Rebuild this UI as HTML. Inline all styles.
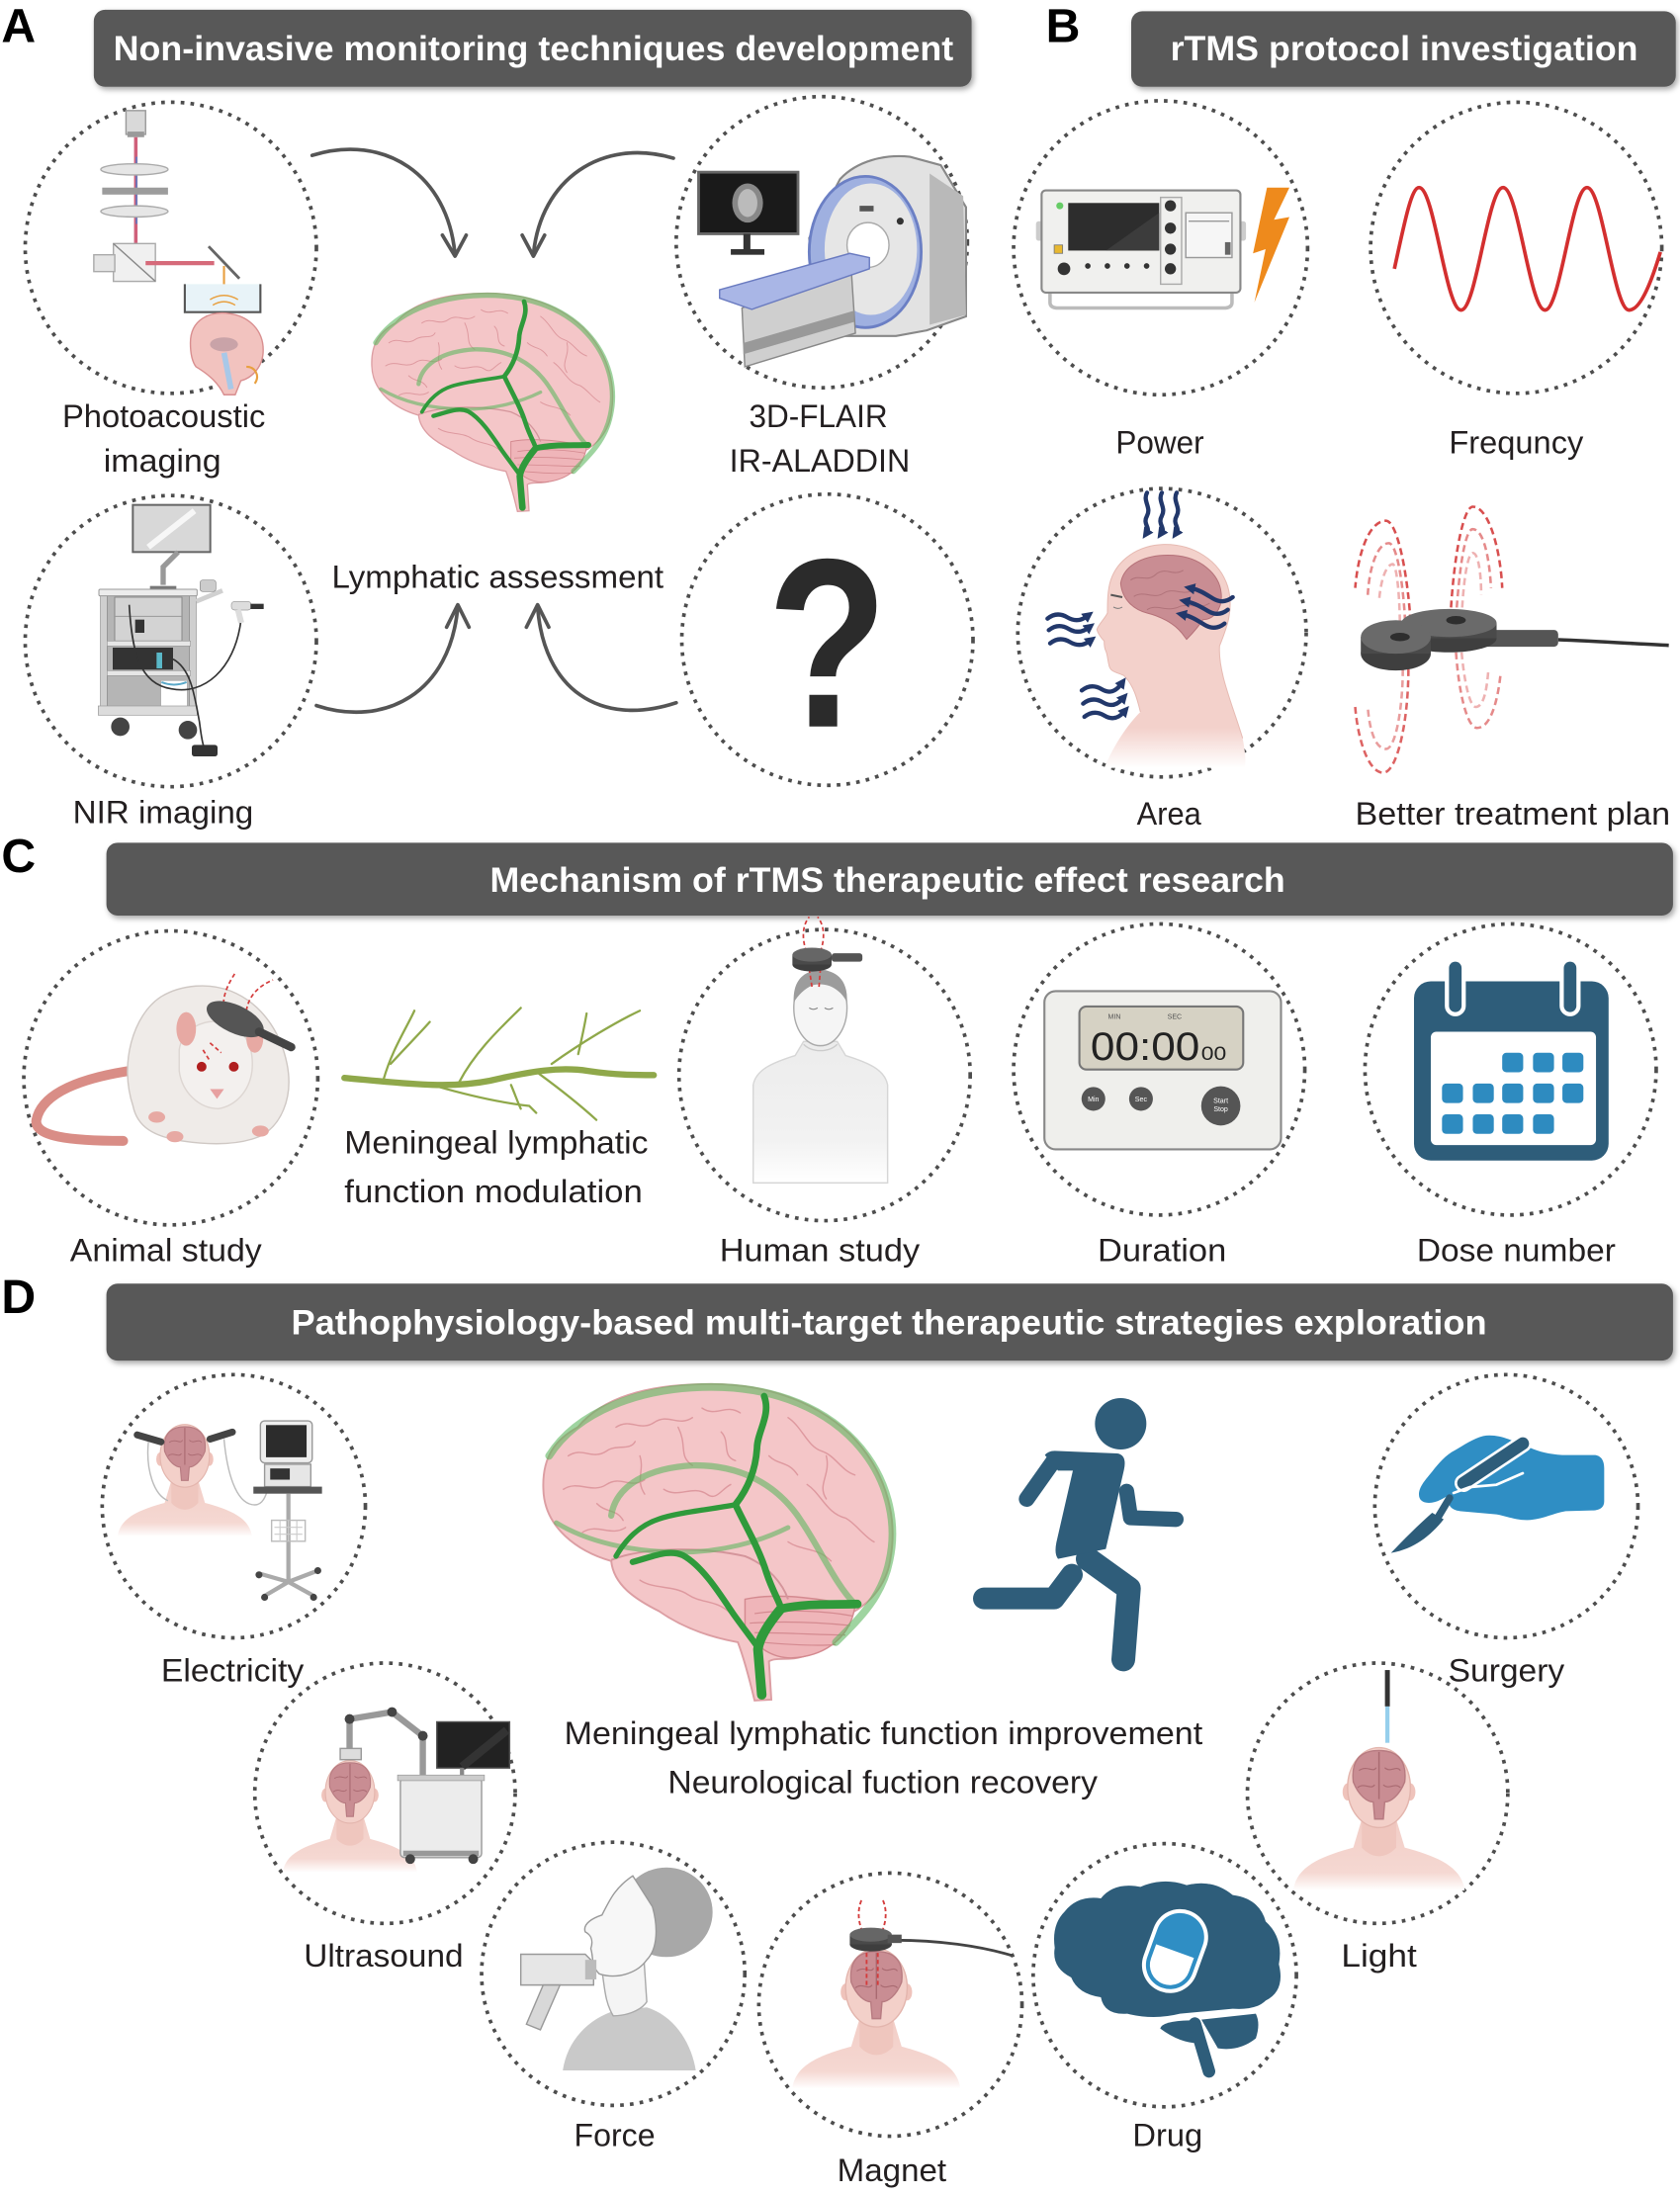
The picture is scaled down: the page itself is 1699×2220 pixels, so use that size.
<!DOCTYPE html>
<html><head><meta charset="utf-8"><title>rTMS lymphatic figure</title>
<style>
html,body{margin:0;padding:0;background:#fff;}
svg{display:block;}
text{font-family:"Liberation Sans","DejaVu Sans",sans-serif;}
.lb{font-size:23px;fill:#231f20;text-anchor:middle;}
.hd{font-size:25px;font-weight:bold;fill:#fff;text-anchor:middle;}
.pl{font-size:34px;font-weight:bold;fill:#000;}
.dc{fill:none;stroke:#4d4d4d;stroke-width:2.6;stroke-dasharray:2.6 4.4;}
.ar{fill:none;stroke:#555;stroke-width:2.6;stroke-linecap:round;stroke-linejoin:round;}
</style></head><body>
<svg width="1699" height="2220" viewBox="0 0 1200 1568" preserveAspectRatio="none" xmlns="http://www.w3.org/2000/svg" xmlns:xlink="http://www.w3.org/1999/xlink">
<defs>
<filter id="sh" x="-5%" y="-30%" width="110%" height="170%"><feDropShadow dx="1.5" dy="2" stdDeviation="2" flood-color="#000" flood-opacity="0.35"/></filter>
<linearGradient id="fadeG" x1="0" y1="0" x2="0" y2="1"><stop offset="0" stop-color="#ececec"/><stop offset="0.7" stop-color="#f2f2f2"/><stop offset="1" stop-color="#fff"/></linearGradient>
<linearGradient id="skin" x1="0" y1="0" x2="0" y2="1"><stop offset="0" stop-color="#f2cdc6"/><stop offset="0.75" stop-color="#f5d8d2"/><stop offset="1" stop-color="#fff"/></linearGradient>
<linearGradient id="skin2" x1="0" y1="0" x2="0" y2="1"><stop offset="0" stop-color="#f3d1cb"/><stop offset="0.82" stop-color="#f3d1cb"/><stop offset="1" stop-color="#fff"/></linearGradient>
<marker id="nv" viewBox="0 0 10 10" refX="3" refY="5" markerWidth="2.6" markerHeight="2.6" orient="auto"><path d="M0 0 L10 5 L0 10 Z" fill="#22386b"/></marker>

<g id="brain">
 <path d="M48 330 C45 260 75 225 120 200 C170 140 260 112 380 110 C500 106 610 140 690 215 C760 285 790 380 775 470 C768 530 730 570 690 590 C680 640 640 670 590 680 C560 690 535 680 520 690 L525 770 L490 772 C480 730 470 690 455 650 C400 640 340 620 290 585 C240 560 195 530 190 480 C120 460 50 410 48 330 Z" fill="#f4c6c8" stroke="#dc9ea3" stroke-width="4"/>
 <path d="M470 560 C540 545 640 560 700 575 C690 640 640 675 580 682 C530 688 490 660 470 620 Z" fill="#efb5b9" stroke="#d48a90" stroke-width="3"/>
 <g stroke="#d48a90" stroke-width="2.5" fill="none">
  <path d="M490 590 C560 580 640 585 695 595"/><path d="M480 610 C560 605 640 610 690 615"/>
  <path d="M490 630 C560 630 630 635 680 635"/><path d="M505 650 C560 655 620 658 660 655"/>
 </g>
 <path d="M190 478 C260 450 380 450 470 470 C520 490 550 530 560 560" fill="none" stroke="#d4959b" stroke-width="4"/>
 <g fill="none" stroke="#d98f96" stroke-width="3" stroke-linecap="round" opacity="0.8">
  <path d="M100 260 C130 240 150 270 180 250 C200 235 230 250 240 230"/>
  <path d="M90 330 C120 310 150 340 180 320 C210 300 230 330 260 310"/>
  <path d="M200 200 C230 180 250 210 280 190 C310 170 330 200 360 180"/>
  <path d="M380 160 C410 180 430 150 460 170"/>
  <path d="M560 180 C590 200 600 240 630 250 C660 260 670 290 700 300"/>
  <path d="M600 320 C630 340 640 380 680 390 C700 400 720 430 740 440"/>
  <path d="M300 330 C330 350 360 320 390 340 C410 355 420 330 440 320"/>
  <path d="M560 440 C590 460 620 450 650 480"/>
  <path d="M250 520 C280 540 320 530 350 550 C380 570 410 560 440 590"/>
  <path d="M130 420 C160 400 190 430 220 410"/>
  <path d="M330 200 C350 240 330 260 360 280"/>
  <path d="M250 260 C260 290 240 310 260 340"/>
  <path d="M640 260 C650 300 620 320 640 350"/>
  <path d="M520 260 C540 280 560 270 580 300"/>
  <path d="M420 210 C440 230 420 260 450 270"/>
  <path d="M160 360 C180 380 200 370 215 395"/>
 </g>
 <g fill="none" stroke="#5fb760" stroke-opacity="0.6" stroke-linecap="round">
  <path d="M60 260 C120 165 250 120 380 116 C510 112 625 150 700 230 C770 305 790 400 772 480 C757 555 710 600 660 650" stroke-width="16"/>
  <path d="M190 385 C200 320 270 285 360 280 C460 278 540 320 590 400 C630 460 660 530 700 570" stroke-width="13"/>
  <path d="M75 400 C140 440 230 460 330 462 C420 462 500 440 560 410" stroke-width="10"/>
 </g>
 <g fill="none" stroke="#2f9a3b" stroke-linecap="round" stroke-linejoin="round">
  <path d="M510 135 C525 175 495 210 495 245 C492 290 475 330 450 362 C470 405 500 455 515 505 C528 545 545 570 545 580" stroke-width="14"/>
  <path d="M450 362 C400 372 330 378 290 392 C250 405 220 435 200 470" stroke-width="11"/>
  <path d="M235 482 C280 470 310 455 340 468 C380 490 415 545 445 590 C470 625 490 650 500 665" stroke-width="13"/>
  <path d="M545 580 C520 610 500 640 497 665 L505 760" stroke-width="20"/>
  <path d="M545 580 C600 568 650 572 705 570" stroke-width="18"/>
 </g>
</g>

<g id="hb">
 <path d="M-60 72 C-58 55 -40 48 -18 42 L-12 22 L12 22 L18 42 C40 48 58 55 60 72 Z" fill="url(#skin)"/>
 <path d="M-12 18 L-12 42 C-5 50 5 50 12 42 L12 18 Z" fill="#efc6be"/>
 <ellipse cx="-22" cy="3" rx="3.5" ry="6" fill="#efc3bb"/><ellipse cx="22" cy="3" rx="3.5" ry="6" fill="#efc3bb"/>
 <ellipse cx="0" cy="0" rx="22" ry="28" fill="#f3d0c9" stroke="#e3b5ad" stroke-width="1"/>
 <path d="M-18 -4 C-20 -22 -10 -26 0 -26 C10 -26 20 -22 18 -4 C14 6 8 10 4 10 L3 22 L-3 22 L-4 10 C-8 10 -14 6 -18 -4 Z" fill="#c98d93" stroke="#b77b81" stroke-width="1"/>
 <path d="M0 -25 L0 8" stroke="#a96a71" stroke-width="1"/>
 <path d="M-14 -12 C-8 -16 -4 -10 -2 -14 M4 -14 C8 -10 12 -16 15 -12 M-15 0 C-10 -4 -6 2 -3 -2 M3 -2 C7 2 11 -4 15 0" stroke="#a96a71" stroke-width="0.8" fill="none"/>
</g>
</defs>

<!-- ================= PANEL A ================= -->
<text class="pl" x="1" y="30">A</text>
<rect x="67" y="7" width="627" height="55" rx="8" fill="#585858" filter="url(#sh)"/>
<text class="hd" x="381" y="43" textLength="600" lengthAdjust="spacingAndGlyphs">Non-invasive monitoring techniques development</text>

<circle class="dc" cx="122" cy="177" r="104"/>
<circle class="dc" cx="587" cy="173" r="104"/>
<circle class="dc" cx="122" cy="458" r="104"/>
<circle class="dc" cx="591" cy="457" r="104"/>

<!-- photoacoustic -->
<g>
 <rect x="90" y="79" width="14" height="17" fill="#d9d9d9" stroke="#9a9a9a"/>
 <rect x="91" y="94" width="12" height="4" fill="#9a9a9a"/>
 <line x1="97" y1="98" x2="97" y2="188" stroke="#d0607a" stroke-width="2.5"/>
 <line x1="97.5" y1="112" x2="97.5" y2="160" stroke="#4a7fd0" stroke-width="1"/>
 <ellipse cx="96" cy="121" rx="24" ry="4" fill="#e6e6e6" stroke="#aaa"/>
 <rect x="73" y="134" width="47" height="5" fill="#9c9c9c"/>
 <ellipse cx="96" cy="151" rx="24" ry="4" fill="#e6e6e6" stroke="#aaa"/>
 <rect x="81" y="174" width="30" height="27" fill="#f0f0f0" stroke="#aaa"/>
 <line x1="81" y1="174" x2="111" y2="201" stroke="#888"/>
 <rect x="67" y="182" width="15" height="12" fill="#e4e4e4" stroke="#aaa"/>
 <line x1="104" y1="188" x2="153" y2="188" stroke="#d66a7a" stroke-width="3"/>
 <line x1="149" y1="176" x2="171" y2="199" stroke="#666" stroke-width="2"/>
 <line x1="160" y1="190" x2="160" y2="218" stroke="#e8a040" stroke-width="1.5"/>
 <path d="M132 203 L132 223 L186 223 L186 203" fill="#e8f3f8" stroke="#555" stroke-width="1.5"/>
 <path d="M150 214 Q160 208 170 214 M152 218 Q160 213 168 218" stroke="#e8a040" fill="none"/>
 <path d="M136 245 C136 228 150 222 164 224 C178 226 188 236 188 250 C188 262 180 270 172 272 L168 282 L160 282 C156 274 150 268 140 262 C137 258 136 252 136 245 Z" fill="#f2c3bf" stroke="#d98f90"/>
 <ellipse cx="160" cy="246" rx="10" ry="5" fill="#c9a3a8"/>
 <path d="M160 252 L165 278" stroke="#a8c8e8" stroke-width="4"/>
 <path d="M176 262 C182 262 186 268 182 274" stroke="#e8a040" stroke-width="1.5" fill="none"/>
</g>

<!-- MRI -->
<g>
 <rect x="499" y="123" width="71" height="44" fill="#1a1a1a" stroke="#666" stroke-width="2"/>
 <ellipse cx="534" cy="145" rx="11" ry="14" fill="#888"/>
 <ellipse cx="534" cy="145" rx="7" ry="10" fill="#bbb"/>
 <rect x="531" y="167" width="5" height="12" fill="#333"/>
 <rect x="522" y="178" width="24" height="4" fill="#333"/>
 <path d="M600 128 C612 115 632 110 650 112 L672 118 L690 148 L690 226 L662 236 L640 240 L600 240 L582 215 L578 170 Z" fill="#e2e2e2" stroke="#888" stroke-width="1.5"/>
 <path d="M664 124 L688 140 L690 225 L664 232 Z" fill="#b9b9b9"/>
 <ellipse cx="618" cy="180" rx="40" ry="54" fill="#9fb0e0" stroke="#6b7fc4" stroke-width="2"/>
 <ellipse cx="622" cy="178" rx="33" ry="47" fill="#e6e6e6"/>
 <ellipse cx="620" cy="175" rx="15" ry="16" fill="#fff" stroke="#aaa"/>
 <circle cx="643" cy="158" r="2.5" fill="#333"/>
 <rect x="614" y="147" width="10" height="4" fill="#555"/>
 <path d="M530 220 L608 192 L611 238 L532 262 Z" fill="#cfcfcf" stroke="#888"/>
 <path d="M531 245 L610 222 L610 230 L531 253 Z" fill="#999"/>
 <path d="M514 207 L607 181 L621 184 L621 192 L537 221 L514 213 Z" fill="#a9b6e6" stroke="#6a7bc0"/>
</g>

<!-- NIR cart (zoom coords) -->
<g transform="scale(0.7063) translate(40,490) scale(0.33333)">
 <rect x="283" y="62" width="235" height="143" fill="#d8d8d8" stroke="#666" stroke-width="6"/>
 <path d="M330 190 L470 80" stroke="#fff" stroke-width="18" opacity="0.8"/>
 <path d="M420 205 L375 250 L375 305" stroke="#999" stroke-width="16" fill="none"/>
 <rect x="335" y="308" width="80" height="10" fill="#777"/>
 <rect x="185" y="335" width="290" height="355" fill="#b5b5b5"/>
 <rect x="185" y="335" width="20" height="355" fill="#cfcfcf" stroke="#888" stroke-width="2"/>
 <rect x="455" y="335" width="20" height="355" fill="#cfcfcf" stroke="#888" stroke-width="2"/>
 <rect x="180" y="318" width="298" height="20" rx="4" fill="#ececec" stroke="#999" stroke-width="3"/>
 <rect x="228" y="342" width="204" height="133" fill="#d3d3d3" stroke="#888" stroke-width="3"/>
 <line x1="228" y1="400" x2="432" y2="400" stroke="#999" stroke-width="3"/>
 <rect x="290" y="410" width="28" height="40" fill="#333"/>
 <rect x="205" y="475" width="253" height="15" fill="#e6e6e6" stroke="#999" stroke-width="2"/>
 <rect x="222" y="495" width="183" height="67" fill="#333"/>
 <rect x="355" y="510" width="17" height="48" fill="#5ab8c8"/>
 <rect x="205" y="565" width="253" height="15" fill="#e6e6e6" stroke="#999" stroke-width="2"/>
 <rect x="368" y="595" width="80" height="90" fill="#fff" stroke="#aaa" stroke-width="2"/>
 <path d="M370 600 Q408 615 446 600" stroke="#5aa8c8" stroke-width="6" fill="none"/>
 <rect x="178" y="672" width="300" height="28" fill="#dcdcdc" stroke="#999" stroke-width="2"/>
 <circle cx="245" cy="735" r="28" fill="#444"/><circle cx="450" cy="745" r="28" fill="#444"/>
 <path d="M475 355 L555 322" stroke="#d0d0d0" stroke-width="14"/>
 <rect x="487" y="290" width="48" height="35" rx="8" fill="#ccc" stroke="#888" stroke-width="2"/>
 <rect x="582" y="355" width="60" height="26" rx="10" fill="#ddd" stroke="#999" stroke-width="2"/>
 <rect x="640" y="362" width="40" height="16" fill="#333"/>
 <path d="M602 380 L612 420" stroke="#ddd" stroke-width="18"/>
 <path d="M610 420 C590 560 500 640 400 620 C300 605 280 500 272 365" stroke="#333" stroke-width="5" fill="none"/>
 <path d="M405 530 C460 560 470 640 485 720 C490 760 495 790 500 800" stroke="#333" stroke-width="5" fill="none"/>
 <rect x="462" y="790" width="78" height="35" rx="8" fill="#333"/>
</g>

<!-- question mark -->
<text x="0" y="0" transform="translate(591,519) scale(0.82,1)" font-size="172" font-weight="bold" fill="#2b2b2b" text-anchor="middle">?</text>

<!-- brain A -->
<use xlink:href="#brain" href="#brain" transform="scale(0.7063) translate(360,260) scale(0.33333)"/>

<!-- arrows A -->
<path class="ar" d="M223 111 C275 95 320 125 325 182"/><path class="ar" d="M316 168 L325 183 L333 168"/>
<path class="ar" d="M481 113 C430 98 386 128 381 182"/><path class="ar" d="M373 168 L381 183 L389 168"/>
<path class="ar" d="M226 504 C275 520 322 495 327 433"/><path class="ar" d="M319 448 L327 432 L335 448"/>
<path class="ar" d="M483 502 C428 520 388 492 384 433"/><path class="ar" d="M376 448 L384 432 L392 448"/>

<text class="lb" x="117" y="305" textLength="145" lengthAdjust="spacingAndGlyphs">Photoacoustic</text>
<text class="lb" x="116" y="337" textLength="84" lengthAdjust="spacingAndGlyphs">imaging</text>
<text class="lb" x="584.5" y="305" textLength="99" lengthAdjust="spacingAndGlyphs">3D-FLAIR</text>
<text class="lb" x="585.5" y="337" textLength="129" lengthAdjust="spacingAndGlyphs">IR-ALADDIN</text>
<text class="lb" x="116.5" y="588" textLength="129" lengthAdjust="spacingAndGlyphs">NIR imaging</text>
<text class="lb" x="355.5" y="420" textLength="237" lengthAdjust="spacingAndGlyphs">Lymphatic assessment</text>

<!-- ================= PANEL B ================= -->
<text class="pl" x="747" y="30">B</text>
<rect x="808" y="8" width="389" height="54" rx="8" fill="#585858" filter="url(#sh)"/>
<text class="hd" x="1003" y="43" textLength="334" lengthAdjust="spacingAndGlyphs">rTMS protocol investigation</text>

<circle class="dc" cx="829" cy="177" r="105"/>
<circle class="dc" cx="1083" cy="177" r="104"/>
<circle class="dc" cx="830" cy="452" r="103"/>

<!-- power device -->
<g>
 <rect x="740" y="158" width="6" height="14" rx="2" fill="#ccc"/><rect x="884" y="158" width="6" height="14" rx="2" fill="#ccc"/>
 <path d="M750 206 L750 216 Q750 220 756 220 L874 220 Q880 220 880 216 L880 206" fill="none" stroke="#bbb" stroke-width="2.5"/>
 <rect x="744" y="136" width="142" height="73" rx="3" fill="#f0f0ee" stroke="#888" stroke-width="1.5"/>
 <rect x="763" y="145" width="65" height="34" fill="#2d2d2d"/>
 <path d="M790 179 L828 152 L828 179 Z" fill="#3c3c3c"/>
 <circle cx="757" cy="147" r="2.5" fill="#6c6"/>
 <rect x="753" y="175" width="6" height="6" fill="#e8b830" stroke="#777" stroke-width="0.6"/>
 <rect x="829" y="141" width="15" height="62" fill="none" stroke="#aaa"/>
 <circle cx="836" cy="147" r="4" fill="#333"/><circle cx="836" cy="163" r="4" fill="#333"/>
 <circle cx="836" cy="178" r="4" fill="#333"/><circle cx="836" cy="192" r="4" fill="#333"/>
 <circle cx="760" cy="192" r="4.5" fill="#333"/>
 <circle cx="777" cy="190" r="2" fill="#333"/><circle cx="791" cy="190" r="2" fill="#333"/>
 <circle cx="805" cy="190" r="2" fill="#333"/><circle cx="819" cy="190" r="2" fill="#333"/>
 <rect x="847" y="152" width="33" height="32" fill="#f6f6f6" stroke="#999"/>
 <line x1="849" y1="158" x2="878" y2="158" stroke="#999"/>
 <rect x="875" y="173" width="4" height="9" fill="#666"/>
 <path d="M905 134 L921 134 L910 157 L921 155 L896 216 L904 178 L895 181 Z" fill="#ee8a1c"/>
</g>

<!-- sine -->
<path d="M996 192 C1003 160 1008 134 1013.6 134 C1024.5 134 1032.7 221.5 1043.6 221.5 C1054.5 221.5 1062.7 134 1073.6 134 C1084.5 134 1092.7 221.5 1103.6 221.5 C1114.5 221.5 1122.7 134 1133.6 134 C1144.5 134 1152.7 221.5 1163.6 221.5 C1172 221.5 1180 200 1186 180" fill="none" stroke="#d32f2f" stroke-width="2.6"/>

<!-- area head (zoom coords) -->
<g transform="scale(0.7063) translate(1020,480) scale(0.33333)">
 <path d="M470 212 C560 210 640 260 665 340 C685 410 660 470 640 520 C635 600 680 700 710 800 C720 850 720 880 715 890 L290 890 C320 820 360 760 400 720 C390 680 380 640 350 610 C330 600 310 600 305 580 C300 560 300 545 295 535 C290 525 290 515 290 505 C280 495 270 480 268 470 C272 455 290 440 300 420 C300 390 300 350 310 320 C330 260 390 215 470 212 Z" fill="url(#skin2)"/>
 <path d="M470 212 C560 210 640 260 665 340 C685 410 660 470 640 520 C635 600 680 700 710 800 M400 720 C390 680 380 640 350 610 C330 600 310 600 305 580 C300 560 300 545 295 535 C290 525 290 515 290 505 C280 495 270 480 268 470 C272 455 290 440 300 420 C300 390 300 350 310 320 C330 260 390 215 470 212" fill="none" stroke="#e6bab2" stroke-width="3"/>
 <path d="M340 330 C350 270 420 240 500 245 C580 250 640 300 645 360 C650 410 620 440 590 440 C570 470 550 490 540 500 L525 480 C500 450 460 430 420 420 C380 410 345 380 340 330 Z" fill="#c98d93" stroke="#b57178" stroke-width="3"/>
 <g fill="none" stroke="#b0737a" stroke-width="3">
  <path d="M370 320 C400 300 420 330 450 300 C480 280 500 310 530 290"/>
  <path d="M380 370 C410 350 440 380 470 360 C500 340 530 370 560 350"/>
  <path d="M420 410 C450 390 480 420 520 400 C550 390 580 410 610 390"/>
 </g>
 <path d="M310 365 L345 372" stroke="#555" stroke-width="6"/>
 <path d="M318 402 Q332 410 345 402" stroke="#777" stroke-width="3" fill="none"/>
 <g fill="none" stroke="#22386b" stroke-width="13" stroke-linecap="round" marker-end="url(#nv)">
  <path d="M420 55 C406 80 434 100 420 125 C406 150 430 160 420 175"/>
  <path d="M465 55 C451 80 479 100 465 125 C451 150 475 160 465 175"/>
  <path d="M510 55 C496 80 524 100 510 125 C496 150 520 160 510 175"/>
  <path d="M118 437 C138 421 158 421 178 433 C198 445 218 445 238 430"/>
  <path d="M122 472 C142 456 162 456 182 468 C202 480 222 480 242 465"/>
  <path d="M126 512 C146 496 166 496 186 508 C206 520 226 520 246 505"/>
  <path d="M222 655 C242 639 262 639 282 651 C302 663 322 663 342 635"/>
  <path d="M226 695 C246 679 266 679 286 691 C306 703 326 703 346 680"/>
  <path d="M230 735 C250 719 270 719 290 731 C310 743 330 743 350 720"/>
  <path d="M680 372 C660 388 640 388 620 376 C600 364 580 350 555 345"/>
  <path d="M665 410 C645 426 625 426 605 414 C585 402 565 390 540 385"/>
  <path d="M655 452 C635 468 615 468 595 456 C575 444 555 430 530 425"/>
 </g>
</g>

<!-- coil better treatment -->
<g fill="none" stroke="#d43c3c" stroke-width="1.8" stroke-dasharray="5 3">
 <path d="M1008 452 C1006 410 998 372 990 372 C978 372 970 395 968 420" opacity="0.9"/>
 <path d="M1004 452 C1003 420 998 388 992 388 C984 388 978 405 977 425" opacity="0.6"/>
 <path d="M1000 452 C1000 428 998 405 995 403 C990 403 986 415 985 430" opacity="0.4"/>
 <path d="M1036 442 C1038 400 1045 362 1052 362 C1064 362 1072 395 1073 420" opacity="0.9"/>
 <path d="M1040 442 C1042 410 1046 378 1052 378 C1060 378 1064 400 1065 420" opacity="0.6"/>
 <path d="M1044 442 C1045 418 1048 395 1052 395 C1056 395 1058 410 1058 425" opacity="0.4"/>
 <path d="M1006 478 C1006 515 998 552 988 552 C978 552 970 530 968 505" opacity="0.8"/>
 <path d="M1002 478 C1002 505 997 535 990 535 C982 535 978 520 977 505" opacity="0.5"/>
 <path d="M1040 466 C1042 495 1048 520 1055 520 C1065 520 1070 500 1072 480" opacity="0.6"/>
 <path d="M1044 466 C1046 488 1050 505 1054 505 C1060 505 1062 492 1063 480" opacity="0.4"/>
</g>
<g>
 <path d="M1113 457 C1140 458 1170 460 1192 461" stroke="#333" stroke-width="2.5" fill="none"/>
 <rect x="1056" y="450" width="57" height="12" rx="3" fill="#555"/>
 <ellipse cx="1035" cy="456" rx="34" ry="10" fill="#3f3f3f"/>
 <rect x="1001" y="445" width="68" height="11" fill="#4a4a4a"/>
 <ellipse cx="1035" cy="445" rx="34" ry="10" fill="#6a6a6a"/>
 <ellipse cx="997" cy="467" rx="25" ry="12" fill="#3f3f3f"/>
 <rect x="972" y="455" width="50" height="12" fill="#4a4a4a"/>
 <ellipse cx="997" cy="455" rx="25" ry="12" fill="#6a6a6a"/>
 <ellipse cx="1000" cy="455" rx="7" ry="3" fill="#2e2e2e"/>
 <ellipse cx="1040" cy="443" rx="7" ry="3" fill="#2e2e2e"/>
</g>

<text class="lb" x="828.5" y="324" textLength="63" lengthAdjust="spacingAndGlyphs">Power</text>
<text class="lb" x="1083" y="324" textLength="96" lengthAdjust="spacingAndGlyphs">Frequncy</text>
<text class="lb" x="835" y="589" textLength="46" lengthAdjust="spacingAndGlyphs">Area</text>
<text class="lb" x="1080.5" y="589" textLength="225" lengthAdjust="spacingAndGlyphs">Better treatment plan</text>

<!-- ================= PANEL C ================= -->
<text class="pl" x="1" y="623">C</text>
<rect x="76" y="602" width="1119" height="52" rx="8" fill="#585858" filter="url(#sh)"/>
<text class="hd" x="634" y="637" textLength="568" lengthAdjust="spacingAndGlyphs">Mechanism of rTMS therapeutic effect research</text>

<circle class="dc" cx="122" cy="770" r="105"/>
<circle class="dc" cx="589" cy="768" r="104"/>
<circle class="dc" cx="828" cy="764" r="104"/>
<circle class="dc" cx="1079" cy="764" r="104"/>

<!-- rat -->
<g>
 <path d="M92 765 C60 770 30 780 26 800 C24 812 50 815 88 815" stroke="#d98d86" stroke-width="7" fill="none" stroke-linecap="round"/>
 <path d="M95 790 C85 760 95 725 115 712 C130 703 150 702 165 708 C185 716 200 735 205 760 C210 785 200 805 185 812 C170 818 150 818 130 815 C110 812 98 805 95 790 Z" fill="#efebe8" stroke="#cfc8c4"/>
 <path d="M128 750 C130 735 145 728 158 730 C172 732 182 745 180 765 C178 780 168 790 156 792 C142 792 130 780 128 765 Z" fill="#f3f0ee" stroke="#ddd6d2"/>
 <ellipse cx="133" cy="735" rx="7" ry="12" fill="#e7a9a3"/>
 <ellipse cx="182" cy="742" rx="6" ry="10" fill="#e7a9a3"/>
 <circle cx="144" cy="762" r="3.5" fill="#b01e1e"/><circle cx="167" cy="762" r="3.5" fill="#b01e1e"/>
 <path d="M150 778 L160 778 L155 785 Z" fill="#e7a0a0"/>
 <ellipse cx="112" cy="798" rx="6" ry="4" fill="#e7a9a3"/>
 <ellipse cx="125" cy="812" rx="6" ry="4" fill="#e7a9a3"/>
 <ellipse cx="186" cy="808" rx="6" ry="4" fill="#e7a9a3"/>
 <g fill="none" stroke="#d43c3c" stroke-width="1.2" stroke-dasharray="3 2">
  <path d="M160 722 C158 710 165 700 168 695"/><path d="M176 722 C178 708 190 702 195 700"/>
  <path d="M150 745 L158 752"/><path d="M145 750 L150 758"/>
 </g>
 <ellipse cx="168" cy="728" rx="22" ry="10" transform="rotate(25 168 728)" fill="#555"/>
 <path d="M185 737 L208 748" stroke="#444" stroke-width="6" stroke-linecap="round"/>
</g>

<!-- vessel -->
<g fill="none" stroke="#8fa84a" stroke-linecap="round">
 <path d="M246 770 C290 774 320 778 350 772 C380 765 400 762 420 765 C440 768 455 768 467 768" stroke-width="4.5"/>
 <g stroke-width="1.6">
  <path d="M274 771 C280 750 290 735 296 722"/><path d="M279 760 C290 748 300 738 307 730"/>
  <path d="M328 773 C340 750 360 732 372 720"/><path d="M394 760 C415 745 440 730 457 722"/>
  <path d="M413 753 C416 740 418 730 419 724"/>
  <path d="M312 776 C340 784 360 788 378 790 L383 795"/><path d="M385 767 C400 778 415 790 426 800"/>
  <path d="M365 775 C368 782 370 788 372 792"/>
 </g>
</g>

<!-- human study -->
<g>
 <path d="M538 845 L538 775 C540 764 552 759 568 754 L574 744 L598 744 L604 754 C620 759 632 764 634 775 L634 845 Z" fill="url(#fadeG)" stroke="#d6d6d6"/>
 <path d="M574 746 C580 752 592 752 598 746" fill="none" stroke="#ccc"/>
 <ellipse cx="586" cy="720" rx="19" ry="27" fill="#f5f5f5" stroke="#aaa"/>
 <path d="M567 716 C566 697 578 693 586 693 C596 693 606 699 605 716 C600 706 590 701 580 704 C575 706 570 711 567 716 Z" fill="#9c9c9c"/>
 <path d="M578 720 Q581 722 584 720 M589 720 Q592 722 595 720" stroke="#888" fill="none" stroke-width="0.8"/>
 <g fill="none" stroke="#d43c3c" stroke-width="1.2" stroke-dasharray="3 2">
  <path d="M576 680 C572 668 574 660 578 655"/><path d="M586 680 C590 668 588 660 584 655"/>
  <path d="M578 692 L580 705"/><path d="M586 692 L585 705"/>
 </g>
 <ellipse cx="580" cy="689" rx="14" ry="5" fill="#3e3e3e"/>
 <rect x="566" y="682" width="28" height="7" fill="#4a4a4a"/>
 <ellipse cx="580" cy="682" rx="14" ry="5" fill="#666"/>
 <rect x="594" y="681" width="22" height="6" rx="2" fill="#555"/>
</g>

<!-- timer -->
<g>
 <rect x="746" y="708" width="169" height="113" rx="8" fill="#efefec" stroke="#888" stroke-width="1.5"/>
 <rect x="771" y="719" width="117" height="45" rx="5" fill="#d6d2c4" stroke="#777" stroke-width="1.5"/>
 <text x="796" y="728" font-size="5" fill="#555" text-anchor="middle">MIN</text>
 <text x="839" y="728" font-size="5" fill="#555" text-anchor="middle">SEC</text>
 <text x="779" y="757" font-size="28" fill="#222" textLength="78" lengthAdjust="spacingAndGlyphs">00:00</text>
 <text x="858" y="757" font-size="14" fill="#222" textLength="18" lengthAdjust="spacingAndGlyphs">00</text>
 <circle cx="781" cy="785" r="8.5" fill="#555"/><circle cx="815" cy="785" r="8.5" fill="#555"/>
 <circle cx="872" cy="790" r="14" fill="#555"/>
 <text x="781" y="787" font-size="5" fill="#fff" text-anchor="middle">Min</text>
 <text x="815" y="787" font-size="5" fill="#fff" text-anchor="middle">Sec</text>
 <text x="872" y="788" font-size="5" fill="#fff" text-anchor="middle">Start</text>
 <text x="872" y="794" font-size="5" fill="#fff" text-anchor="middle">Stop</text>
</g>

<!-- calendar -->
<g>
 <rect x="1010" y="701" width="139" height="128" rx="12" fill="#2e5d7a"/>
 <rect x="1022" y="737" width="118" height="81" rx="4" fill="#fff"/>
 <rect x="1032" y="684" width="15" height="42" rx="7.5" fill="#fff"/>
 <rect x="1114" y="684" width="15" height="42" rx="7.5" fill="#fff"/>
 <rect x="1035" y="687" width="9" height="36" rx="4.5" fill="#2e5d7a"/>
 <rect x="1117" y="687" width="9" height="36" rx="4.5" fill="#2e5d7a"/>
 <g fill="#2e8bc0">
  <rect x="1073" y="752" width="15" height="14" rx="3"/><rect x="1095" y="752" width="15" height="14" rx="3"/><rect x="1116" y="752" width="15" height="14" rx="3"/>
  <rect x="1030" y="774" width="15" height="14" rx="3"/><rect x="1052" y="774" width="15" height="14" rx="3"/><rect x="1073" y="774" width="15" height="14" rx="3"/><rect x="1095" y="774" width="15" height="14" rx="3"/><rect x="1116" y="774" width="15" height="14" rx="3"/>
  <rect x="1030" y="796" width="15" height="14" rx="3"/><rect x="1052" y="796" width="15" height="14" rx="3"/><rect x="1073" y="796" width="15" height="14" rx="3"/><rect x="1095" y="796" width="15" height="14" rx="3"/>
 </g>
</g>

<text class="lb" x="118.5" y="901" textLength="137" lengthAdjust="spacingAndGlyphs">Animal study</text>
<text class="lb" x="354.5" y="824" textLength="217" lengthAdjust="spacingAndGlyphs">Meningeal lymphatic</text>
<text class="lb" x="352.5" y="859" textLength="213" lengthAdjust="spacingAndGlyphs">function modulation</text>
<text class="lb" x="585.5" y="901" textLength="143" lengthAdjust="spacingAndGlyphs">Human study</text>
<text class="lb" x="830" y="901" textLength="92" lengthAdjust="spacingAndGlyphs">Duration</text>
<text class="lb" x="1083" y="901" textLength="142" lengthAdjust="spacingAndGlyphs">Dose number</text>

<!-- ================= PANEL D ================= -->
<text class="pl" x="1" y="938">D</text>
<rect x="76" y="917" width="1119" height="55" rx="8" fill="#585858" filter="url(#sh)"/>
<text class="hd" x="635" y="953" textLength="854" lengthAdjust="spacingAndGlyphs">Pathophysiology-based multi-target therapeutic strategies exploration</text>

<circle class="dc" cx="167" cy="1076" r="94"/>
<circle class="dc" cx="1076" cy="1076" r="94"/>
<circle class="dc" cx="275" cy="1281" r="93"/>
<circle class="dc" cx="984" cy="1281" r="93"/>
<circle class="dc" cx="438" cy="1410" r="94"/>
<circle class="dc" cx="636" cy="1432" r="94"/>
<circle class="dc" cx="832" cy="1411" r="94"/>

<!-- electricity -->
<g>
 <use xlink:href="#hb" href="#hb" transform="translate(132,1040) scale(0.8)"/>
 <path d="M98 1025 L115 1030" stroke="#444" stroke-width="5" stroke-linecap="round"/>
 <path d="M150 1028 L166 1023" stroke="#444" stroke-width="5" stroke-linecap="round"/>
 <path d="M106 1030 C104 1050 110 1068 120 1072 M160 1028 C162 1050 168 1075 182 1075 C188 1075 190 1068 192 1062" stroke="#bbb" stroke-width="1" fill="none"/>
 <rect x="186" y="1015" width="37" height="30" rx="3" fill="#eee" stroke="#999"/>
 <rect x="190" y="1018" width="29" height="23" fill="#2c2c2c"/>
 <rect x="189" y="1046" width="33" height="16" fill="#e6e6e6" stroke="#999"/>
 <rect x="193" y="1049" width="14" height="8" fill="#333"/>
 <rect x="181" y="1062" width="49" height="5" fill="#555"/>
 <line x1="206" y1="1067" x2="206" y2="1130" stroke="#aaa" stroke-width="3"/>
 <rect x="194" y="1086" width="24" height="15" fill="none" stroke="#bbb"/>
 <path d="M196 1091 L216 1091 M196 1096 L216 1096 M200 1086 L200 1101 M206 1086 L206 1101 M212 1086 L212 1101" stroke="#ccc" stroke-width="0.8"/>
 <path d="M185 1124 L206 1130 L227 1122 M189 1140 L206 1130 L224 1140" stroke="#aaa" stroke-width="3" fill="none"/>
 <circle cx="185" cy="1125" r="2.5" fill="#444"/><circle cx="227" cy="1122" r="2.5" fill="#444"/>
 <circle cx="189" cy="1141" r="2.5" fill="#444"/><circle cx="224" cy="1141" r="2.5" fill="#444"/>
</g>

<!-- ultrasound -->
<g>
 <use xlink:href="#hb" href="#hb" transform="translate(250,1280) scale(0.8)"/>
 <path d="M249.7 1250 L249.7 1228 L280 1223 L302 1240 L302 1270" stroke="#999" stroke-width="4.5" fill="none" stroke-linejoin="round"/>
 <circle cx="249.7" cy="1228" r="3.5" fill="#444"/><circle cx="280" cy="1223" r="3.5" fill="#444"/><circle cx="302" cy="1240" r="3.5" fill="#444"/>
 <rect x="243" y="1249" width="15" height="8" fill="#ddd" stroke="#999"/>
 <rect x="286" y="1270" width="58" height="57" rx="3" fill="#ececec" stroke="#999"/>
 <rect x="284" y="1268" width="62" height="4" fill="#ccc" stroke="#999" stroke-width="0.5"/>
 <rect x="312" y="1230" width="52" height="33" fill="#222" stroke="#555"/>
 <path d="M330 1262 L362 1236" stroke="#333" stroke-width="6"/>
 <line x1="330" y1="1263" x2="330" y2="1268" stroke="#888" stroke-width="3"/>
 <rect x="288" y="1322" width="54" height="4" fill="#999"/>
 <circle cx="293" cy="1328" r="3.5" fill="#444"/><circle cx="338" cy="1328" r="3.5" fill="#444"/>
</g>

<!-- force -->
<g>
 <path d="M402 1479 C405 1458 420 1442 440 1436 L462 1434 C482 1440 494 1460 497 1479 Z" fill="#c9c9c9"/>
 <path d="M430 1408 C432 1420 432 1430 438 1440 C448 1440 458 1436 462 1430 L460 1400 Z" fill="#f4f4f4" stroke="#aaa"/>
 <ellipse cx="476" cy="1366" rx="33" ry="32" fill="#a8a8a8"/>
 <path d="M452 1340 C440 1348 436 1356 430 1368 C424 1370 416 1374 418 1380 C422 1382 424 1386 422 1392 C424 1398 422 1404 428 1410 C440 1414 455 1410 462 1400 C470 1392 470 1376 466 1362 Z" fill="#f7f7f7" stroke="#999"/>
 <path d="M372 1396 L418 1396 L424 1402 L424 1418 L372 1418 Z" fill="#e6e6e6" stroke="#999"/>
 <path d="M388 1418 L400 1418 L386 1450 L376 1446 Z" fill="#d8d8d8" stroke="#999"/>
 <rect x="418" y="1400" width="8" height="14" fill="#bbb"/>
</g>

<!-- magnet -->
<g>
 <use xlink:href="#hb" href="#hb" transform="translate(626,1420) scale(1)"/>
 <g fill="none" stroke="#d43c3c" stroke-width="1.3" stroke-dasharray="3 2">
  <path d="M616 1380 C612 1370 613 1362 616 1356"/><path d="M630 1380 C634 1370 633 1362 630 1356"/>
  <path d="M619 1395 L619 1420"/><path d="M627 1395 L627 1420"/>
 </g>
 <path d="M639 1386 C670 1386 700 1390 723 1397" stroke="#444" stroke-width="2" fill="none"/>
 <ellipse cx="622" cy="1389" rx="15" ry="5" fill="#3e3e3e"/>
 <rect x="607" y="1382" width="30" height="7" fill="#4a4a4a"/>
 <ellipse cx="622" cy="1382" rx="15" ry="5" fill="#666"/>
 <rect x="634" y="1382" width="10" height="6" fill="#555"/>
</g>

<!-- light -->
<g>
 <use xlink:href="#hb" href="#hb" transform="translate(985,1277) scale(1.02)"/>
 <line x1="991" y1="1193" x2="991" y2="1219" stroke="#333" stroke-width="3.5"/>
 <line x1="991" y1="1219" x2="991" y2="1245" stroke="#7cc4e8" stroke-width="3" opacity="0.8"/>
</g>

<!-- big brain D -->
<use xlink:href="#brain" href="#brain" transform="scale(0.7063) translate(526.3,1346.8) scale(0.4833)"/>

<!-- running man -->
<g transform="scale(0.7063) translate(960,1390) scale(0.33333)" fill="#2f5d7a" stroke="#2f5d7a" stroke-linecap="round" stroke-linejoin="round">
 <path d="M372 608 L318 680 L105 680" stroke-width="66" fill="none"/>
 <circle cx="520" cy="150" r="78" stroke="none"/>
 <path d="M320 258 L235 378" stroke-width="48" fill="none"/>
 <path d="M538 355 L550 435 L688 440" stroke-width="46" fill="none"/>
 <path d="M420 560 L545 650 L528 865" stroke-width="72" fill="none"/>
 <path d="M290 245 Q300 232 320 232 L510 240 Q540 245 530 290 L475 530 L330 560 Q318 545 325 510 L375 292 L330 292 Z" stroke="none"/>
</g>

<!-- surgery hand -->
<g transform="scale(0.7063) translate(1380,1400) scale(0.33333)">
 <path d="M165 335 C165 310 185 290 205 265 C225 240 245 215 275 200 C300 185 330 165 360 157 C390 152 420 160 445 170 L500 192 C530 205 560 212 600 215 L700 215 C720 218 727 235 727 255 L727 355 C727 375 712 383 690 383 L610 385 C570 392 540 410 495 412 C460 413 430 400 400 395 L290 385 C265 382 255 370 255 355 C255 345 258 337 262 333 C240 345 220 360 195 360 C175 360 165 350 165 335 Z" fill="#2f8ec4"/>
 <path d="M480 180 L300 300" stroke="#fff" stroke-width="54" stroke-linecap="round"/>
 <path d="M480 180 L300 300" stroke="#2e5d7a" stroke-width="38" stroke-linecap="round"/>
 <path d="M270 330 L320 312 L400 305 L480 270" stroke="#fff" stroke-width="8" fill="none" stroke-linecap="round"/>
 <path d="M258 345 L225 400" stroke="#2e5d7a" stroke-width="22" stroke-linecap="round"/>
 <path d="M205 390 L240 410 C200 460 150 500 80 512 C120 470 160 430 205 390 Z" fill="#2e5d7a"/>
</g>

<!-- drug brain -->
<g transform="scale(0.7063) translate(1040,1880) scale(0.33333)">
 <path d="M110 160 Q150 110 220 120 Q260 70 340 85 Q410 55 480 80 Q560 60 620 110 Q700 120 720 190 Q775 240 760 320 Q780 400 720 430 Q690 460 620 455 L460 470 Q380 490 300 470 Q230 475 220 420 Q150 410 130 360 Q70 330 80 270 Q70 200 110 160 Z" fill="#2e5d7a"/>
 <path d="M400 515 Q405 492 490 490 L520 560 Q460 560 400 515 Z" fill="#2e5d7a"/>
 <path d="M505 500 L548 645" stroke="#2e5d7a" stroke-width="38" stroke-linecap="round"/>
 <path d="M525 488 L690 470 Q705 500 690 545 Q640 585 575 575 Z" fill="#2e5d7a"/>
 <g transform="rotate(20 445 280)">
  <rect x="360" y="150" width="170" height="260" rx="85" fill="#fff"/>
  <rect x="372" y="162" width="146" height="236" rx="73" fill="#2f8ec4"/>
  <path d="M384 280 L506 280 L506 325 A61 61 0 0 1 384 325 Z" fill="#fff"/>
 </g>
</g>

<text class="lb" x="166" y="1201" textLength="102" lengthAdjust="spacingAndGlyphs">Electricity</text>
<text class="lb" x="1076" y="1201" textLength="83" lengthAdjust="spacingAndGlyphs">Surgery</text>
<text class="lb" x="274" y="1405" textLength="114" lengthAdjust="spacingAndGlyphs">Ultrasound</text>
<text class="lb" x="985" y="1405" textLength="54" lengthAdjust="spacingAndGlyphs">Light</text>
<text class="lb" x="439" y="1533" textLength="58" lengthAdjust="spacingAndGlyphs">Force</text>
<text class="lb" x="834" y="1533" textLength="50" lengthAdjust="spacingAndGlyphs">Drug</text>
<text class="lb" x="637" y="1558" textLength="78" lengthAdjust="spacingAndGlyphs">Magnet</text>
<text class="lb" x="631" y="1246" textLength="456" lengthAdjust="spacingAndGlyphs">Meningeal lymphatic function improvement</text>
<text class="lb" x="630.5" y="1281" textLength="307" lengthAdjust="spacingAndGlyphs">Neurological fuction recovery</text>
</svg>
</body></html>
